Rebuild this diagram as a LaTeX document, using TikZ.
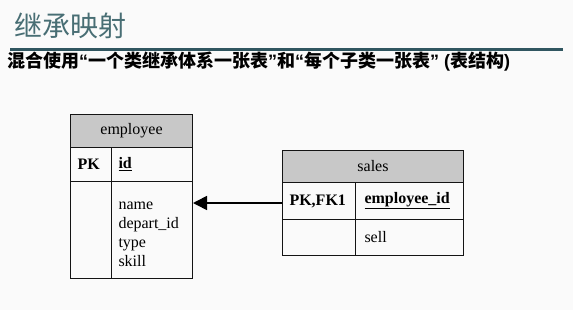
\documentclass[tikz,border=0pt]{standalone}
\usepackage{fontspec}
\setmainfont{Liberation Serif}
\newfontfamily\cjk{Noto Sans CJK SC}
\newfontfamily\latinsans{Liberation Sans}
\usetikzlibrary{arrows.meta, positioning}
\definecolor{slideGround}{RGB}{250,250,250}
\definecolor{titleInk}{RGB}{72,110,116}
\definecolor{titleRule}{RGB}{48,86,96}
\definecolor{tabHead}{RGB}{200,200,200}
\definecolor{tabBody}{RGB}{250,250,250}
\definecolor{tabEdge}{RGB}{20,20,20}
% narrow latin quotes and brackets inside the chinese subtitle
\newcommand{\latinmark}[1]{{\latinsans\bfseries #1}}
\tikzset{
  % table header and cells, placed by their north west corner
  tabhead/.style={
    draw=tabEdge, fill=tabHead, line width=1pt, anchor=north west,
    inner sep=0pt, font=\fontsize{16}{19}\selectfont
  },
  tabcell/.style={
    draw=tabEdge, fill=tabBody, line width=1pt, anchor=north west,
    inner xsep=7pt, inner ysep=0pt, align=left,
    font=\fontsize{16}{19}\selectfont
  },
  % foreign key reference
  fk/.style={-{Triangle[length=14pt,width=14pt]}, draw=black, line width=1.6pt},
}

\begin{document}
\begin{tikzpicture}[x=1pt, y=-1pt]
\useasboundingbox (0,0) rectangle (573,310);
\fill[slideGround] (0,0) rectangle (573,310);

% ============================ slide heading ================================
\node[anchor=west, inner sep=0pt, text=titleInk,
      font=\cjk\fontsize{28}{28}\selectfont] (title) at (14,26) {继承映射};
\draw[titleRule, line width=2.2pt] (10,49.5) -- (563,49.5);
\node[anchor=west, inner sep=0pt,
      font=\cjk\bfseries\fontsize{18}{18}\selectfont] (subtitle) at (7,62)
      {混合使用\latinmark{“}一个类继承体系一张表\latinmark{”}和\latinmark{“}每个子类一张表\latinmark{” (}表结构\latinmark{)}};

% ============================ employee table ===============================
\node[tabhead, minimum width=122pt, minimum height=33pt] (emphead)
      at (70,114) {employee};
\node[tabcell, text width=27pt, minimum height=34pt] (emppk)
      at (70,147) {\textbf{PK}};
\node[tabcell, text width=67pt, minimum height=34pt] (empid)
      at (111,147) {\textbf{\underline{id}}};
\node[tabcell, text width=27pt, minimum height=97pt] (empkeys)
      at (70,181) {};
\node[tabcell, text width=67pt, minimum height=97pt] (empbody)
      at (111,181) {\rule{0pt}{17pt}name\\depart\_id\\type\\skill};

% ============================== sales table ================================
\node[tabhead, minimum width=181pt, minimum height=32pt] (saleshead)
      at (282,150) {sales};
\node[tabcell, text width=59pt, minimum height=37pt, inner xsep=7pt] (salespk)
      at (282,182) {\textbf{PK,FK1}};
\node[tabcell, text width=90pt, minimum height=37pt, inner xsep=9pt] (salesid)
      at (355,182) {\textbf{\underline{employee\_id}}};
\node[tabcell, text width=59pt, minimum height=36pt] (saleskeys)
      at (282,219) {};
\node[tabcell, text width=90pt, minimum height=36pt, inner xsep=9pt] (salesbody)
      at (355,219) {sell};

% sales.employee_id refers to employee.id
\draw[fk] ([yshift=-2pt]salespk.west) -- ([yshift=-2pt]salespk.west -| empbody.east);

\end{tikzpicture}
\end{document}
